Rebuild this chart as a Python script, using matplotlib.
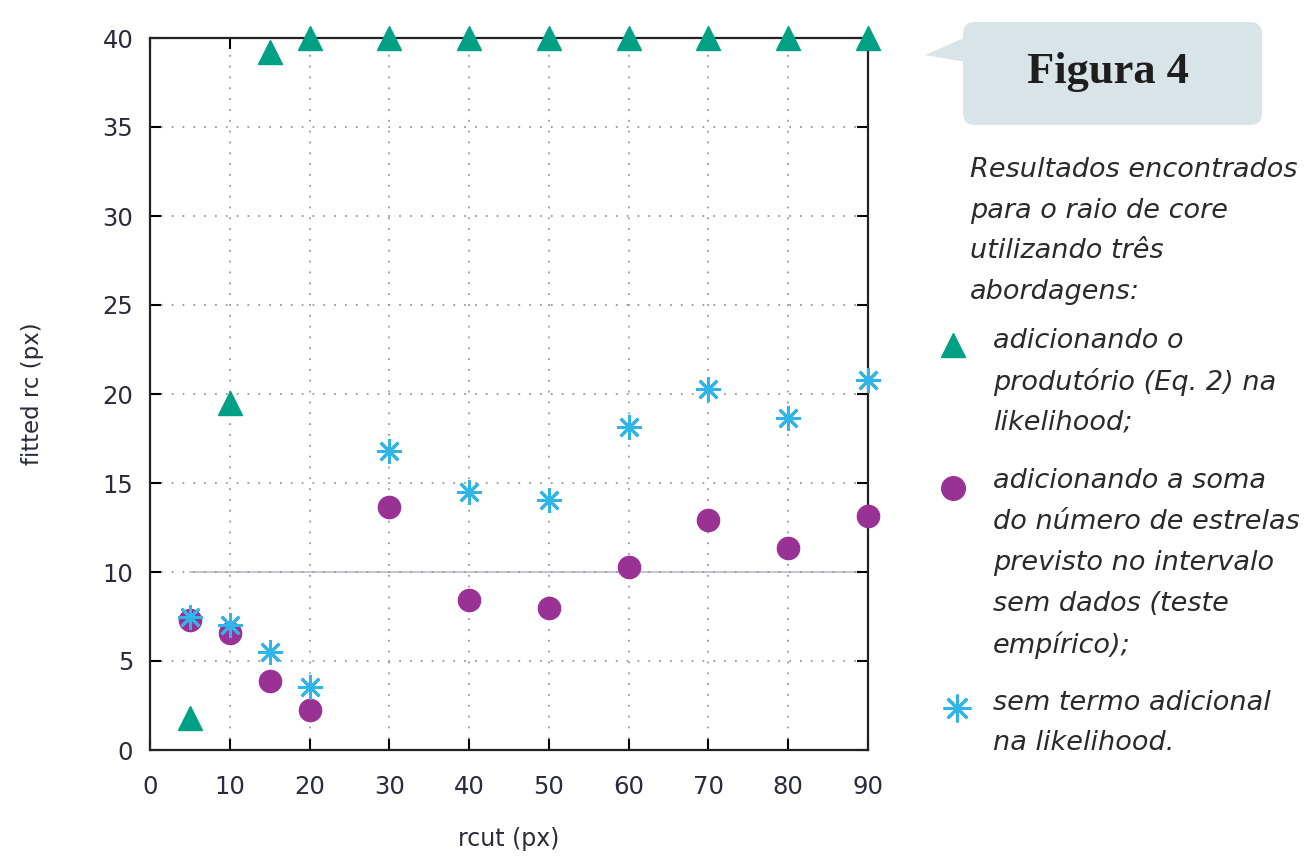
import matplotlib
matplotlib.use("Agg")
import matplotlib.pyplot as plt
from matplotlib.patches import FancyBboxPatch, Polygon

# data
rcut = [5, 10, 15, 20, 30, 40, 50, 60, 70, 80, 90]
rc_produtorio = [1.8, 19.5, 39.2, 40, 40, 40, 40, 40, 40, 40, 40]
rc_soma = [7.3, 6.6, 3.9, 2.25, 13.65, 8.4, 8.0, 10.3, 12.9, 11.35, 13.15]
rc_sem = [7.5, 7.0, 5.5, 3.55, 16.8, 14.5, 14.05, 18.15, 20.3, 18.65, 20.8]
rc_true = 10

green = '#00a084'
purple = '#9a3296'
cyan = '#2fb5e8'

fig = plt.figure(figsize=(13.06, 8.58), dpi=100)
ax = fig.add_axes([150/1306, 1-750/858, 718/1306, 712/858])

ax.plot([rcut[0], rcut[-1]], [rc_true, rc_true], color='#c4bcd8', lw=1.3, zorder=1)
ax.plot(rcut, rc_produtorio, ls='none', marker='^', ms=17, color=green, mec=green, zorder=3, clip_on=False)
ax.plot(rcut, rc_soma, ls='none', marker='o', ms=16, color=purple, mec=purple, zorder=3, clip_on=False)
ax.plot(rcut, rc_sem, ls='none', marker=(8, 2, 0), ms=18, mew=2, color=cyan, zorder=4, clip_on=False)

ax.set_xlim(0, 90)
ax.set_ylim(0, 40)
ax.set_xticks(range(0, 91, 10))
ax.set_yticks(range(0, 41, 5))
ax.grid(True, ls=(0, (1, 5)), color='#999999', lw=1.3)
ax.tick_params(direction='in', top=True, right=True, length=8, width=1.5,
               labelsize=17.5, labelcolor='#2a2a3a')
ax.tick_params(axis='x', pad=18)
ax.tick_params(axis='y', pad=12)
for s in ax.spines.values():
    s.set_linewidth(1.6)
    s.set_color('#222222')

ax.set_xlabel('rcut (px)', fontsize=17, color='#2a2a3a')
ax.set_ylabel('fitted rc (px)', fontsize=16.5, color='#2a2a3a')
ax.xaxis.set_label_coords(0.5, -0.108)
ax.yaxis.set_label_coords(-0.148, 0.5)

# right-hand panel, drawn in pixel coordinates
ov = fig.add_axes([0, 0, 1, 1], zorder=-1)
ov.set_xlim(0, 1306)
ov.set_ylim(858, 0)
ov.axis('off')
box_col = '#d9e4e8'
ov.add_patch(FancyBboxPatch((963, 22), 299, 103, boxstyle='round,pad=0,rounding_size=12',
                            fc=box_col, ec='none'))
ov.add_patch(Polygon([[925, 55], [966, 37], [966, 62]], closed=True, fc=box_col, ec='none'))
ov.text(1108, 72, 'Figura 4', fontsize=32, family='Liberation Serif',
        weight='bold', ha='center', va='center', color='#1e1e1e')

txt = dict(fontsize=19.5, style='italic', family='DejaVu Sans', color='#2a2a2a', va='center', ha='left')
intro = ['Resultados encontrados', 'para o raio de core', 'utilizando três', 'abordagens:']
for i, line in enumerate(intro):
    ov.text(970, 170 + i * 40.7, line, **txt)

ov.plot([953], [345], marker='^', ms=17, color=green, ls='none')
for i, line in enumerate(['adicionando o', 'produtório (Eq. 2) na', 'likelihood;']):
    ov.text(993, 341 + i * 40.5, line, **txt)

ov.plot([953], [488], marker='o', ms=17, color=purple, ls='none')
for i, line in enumerate(['adicionando a soma', 'do número de estrelas', 'previsto no intervalo',
                          'sem dados (teste', 'empírico);']):
    ov.text(993, 481 + i * 41, line, **txt)

ov.plot([957], [708], marker=(8, 2, 0), ms=20, mew=2, color=cyan, ls='none')
for i, line in enumerate(['sem termo adicional', 'na likelihood.']):
    ov.text(993, 703 + i * 40, line, **txt)

fig.savefig('out.png', dpi=100)
